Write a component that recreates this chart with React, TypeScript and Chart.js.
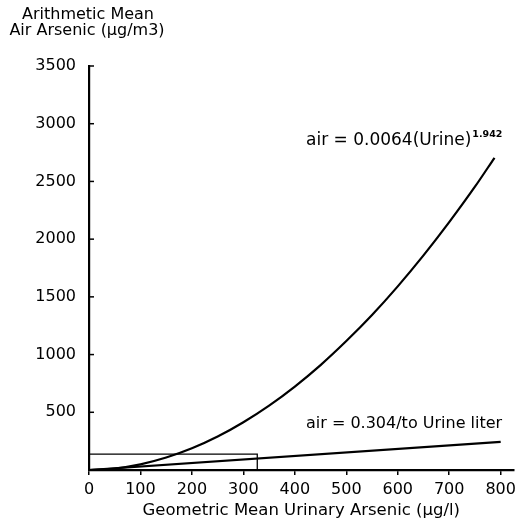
import React, { useEffect, useRef } from "react";
import { Chart, registerables } from "chart.js";

Chart.register(...registerables);

// ---- data ----
const xTickValues = [0, 100, 200, 300, 400, 500, 600, 700, 800];
const yTickValues = [500, 1000, 1500, 2000, 2500, 3000, 3500];

const urinePower = [0, 50, 100, 150, 200, 250, 300, 350, 400, 450, 500, 550, 600, 650, 700, 750, 788];
const airPower = [0, 13, 49, 108, 188, 290, 414, 558, 723, 909, 1117, 1343, 1591, 1859, 2147, 2454, 2705];

const urineLinear = [0, 800];
const airLinear = [0, 243];

const boxUrine = [0, 327, 327];
const boxAir = [138, 138, 0];

const yTitleLines = ["Arithmetic Mean", "Air Arsenic (\u00b5g/m3)"];
const xTitle = "Geometric Mean Urinary Arsenic (\u00b5g/l)";
const powerLabel = "air = 0.0064(Urine)";
const powerExponent = "1.942";
const linearLabel = "air = 0.304/to Urine liter";

const FONT = "'DejaVu Sans', sans-serif";

const toPoints = (xs: number[], ys: number[]) => xs.map((x, i) => ({ x, y: ys[i] }));

const textPlugin = {
  id: "customText",
  afterDraw(chart: any) {
    const ctx = chart.ctx;
    const yScale = chart.scales.y;
    const area = chart.chartArea;
    ctx.save();
    // inward y ticks
    ctx.strokeStyle = "#000";
    ctx.lineWidth = 1.5;
    yTickValues.forEach((v) => {
      const py = yScale.getPixelForValue(v);
      ctx.beginPath();
      ctx.moveTo(area.left, py);
      ctx.lineTo(area.left + 5, py);
      ctx.stroke();
    });
    ctx.fillStyle = "#000";
    // y title (two centred lines)
    ctx.font = `16px ${FONT}`;
    ctx.textAlign = "center";
    ctx.textBaseline = "middle";
    ctx.fillText(yTitleLines[0], 88, 15);
    ctx.fillText(yTitleLines[1], 87, 31);
    // equation labels
    ctx.textAlign = "left";
    ctx.font = `17px ${FONT}`;
    ctx.fillText(powerLabel, 306, 141);
    const w = ctx.measureText(powerLabel).width;
    ctx.font = `bold 9.5px ${FONT}`;
    ctx.fillText(powerExponent, 306 + w + 1, 135);
    ctx.font = `16px ${FONT}`;
    ctx.fillText(linearLabel, 306, 424);
    ctx.restore();
  },
};

export default function App() {
  const canvasRef = useRef<HTMLCanvasElement | null>(null);

  useEffect(() => {
    if (!canvasRef.current) return;
    const lineStyle = {
      borderColor: "#000",
      borderWidth: 2.2,
      pointRadius: 0,
      fill: false,
    };
    const chart = new Chart(canvasRef.current, {
      type: "line",
      data: {
        datasets: [
          {
            ...lineStyle,
            data: toPoints(urinePower, airPower),
            cubicInterpolationMode: "monotone",
          },
          {
            ...lineStyle,
            data: toPoints(urineLinear, airLinear),
          },
          {
            ...lineStyle,
            borderWidth: 1.3,
            data: toPoints(boxUrine, boxAir),
          },
        ],
      },
      options: {
        animation: false,
        responsive: false,
        devicePixelRatio: 1,
        layout: { padding: { top: 66, right: 2, left: 0, bottom: 0 } },
        plugins: {
          legend: { display: false },
          tooltip: { enabled: false },
          title: { display: false },
        },
        scales: {
          x: {
            type: "linear",
            min: 0,
            max: 825,
            border: { display: true, color: "#000", width: 2.2 },
            grid: {
              display: true,
              drawOnChartArea: false,
              drawTicks: true,
              tickLength: 5,
              color: "#000",
              lineWidth: 1.5,
            },
            ticks: {
              color: "#000",
              font: { family: FONT, size: 16 },
              padding: 5,
              maxRotation: 0,
              autoSkip: false,
              callback: (v: any) => String(v),
            },
            afterBuildTicks: (scale: any) => {
              scale.ticks = xTickValues.map((v) => ({ value: v }));
            },
            afterFit: (scale: any) => {
              scale.height = 54;
            },
            title: {
              display: true,
              text: xTitle,
              color: "#000",
              font: { family: FONT, size: 16.5 },
              padding: { top: 0, bottom: 3 },
            },
          },
          y: {
            type: "linear",
            min: 0,
            max: 3500,
            border: { display: true, color: "#000", width: 2.2 },
            grid: { display: false },
            ticks: {
              color: "#000",
              font: { family: FONT, size: 16 },
              padding: 5,
              callback: (v: any) => String(v),
            },
            afterBuildTicks: (scale: any) => {
              scale.ticks = yTickValues.map((v) => ({ value: v }));
            },
            afterFit: (scale: any) => {
              scale.width = 89;
            },
          },
        },
      } as any,
      plugins: [textPlugin],
    });
    return () => chart.destroy();
  }, []);

  return (
    <div style={{ position: "fixed", left: 0, top: 0, width: 521, height: 524, background: "#fff" }}>
      <canvas ref={canvasRef} width={521} height={524} style={{ display: "block" }} />
    </div>
  );
}
